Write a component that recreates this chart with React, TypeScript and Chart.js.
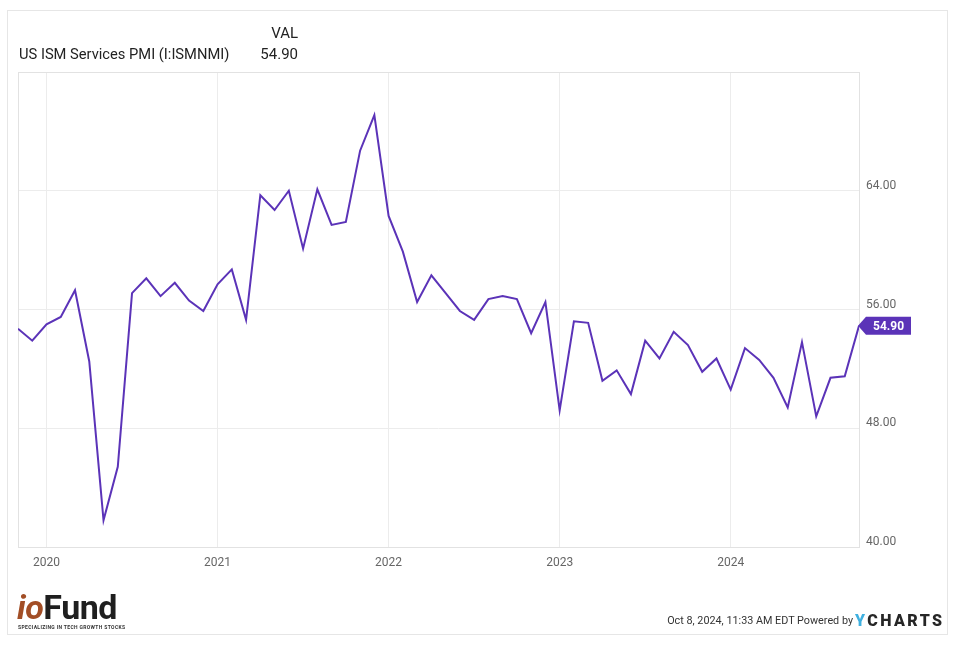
import React, { useEffect, useRef } from "react";
import { Chart, registerables } from "chart.js";

Chart.register(...registerables);

// Monthly US ISM Services PMI, Oct 2019 .. Sep 2024 (month-end dated)
const months: string[] = [
  "2019-10", "2019-11", "2019-12",
  "2020-01", "2020-02", "2020-03", "2020-04", "2020-05", "2020-06", "2020-07", "2020-08", "2020-09", "2020-10", "2020-11", "2020-12",
  "2021-01", "2021-02", "2021-03", "2021-04", "2021-05", "2021-06", "2021-07", "2021-08", "2021-09", "2021-10", "2021-11", "2021-12",
  "2022-01", "2022-02", "2022-03", "2022-04", "2022-05", "2022-06", "2022-07", "2022-08", "2022-09", "2022-10", "2022-11", "2022-12",
  "2023-01", "2023-02", "2023-03", "2023-04", "2023-05", "2023-06", "2023-07", "2023-08", "2023-09", "2023-10", "2023-11", "2023-12",
  "2024-01", "2024-02", "2024-03", "2024-04", "2024-05", "2024-06", "2024-07", "2024-08", "2024-09",
];

const pmiValues: number[] = [
  54.7, 53.9, 55.0,
  55.5, 57.3, 52.5, 41.8, 45.4, 57.1, 58.1, 56.9, 57.8, 56.6, 55.9, 57.7,
  58.7, 55.3, 63.7, 62.7, 64.0, 60.1, 64.1, 61.7, 61.9, 66.7, 69.1, 62.3,
  59.9, 56.5, 58.3, 57.1, 55.9, 55.3, 56.7, 56.9, 56.7, 54.4, 56.5, 49.2,
  55.2, 55.1, 51.2, 51.9, 50.3, 53.9, 52.7, 54.5, 53.6, 51.8, 52.7, 50.6,
  53.4, 52.6, 51.4, 49.4, 53.8, 48.8, 51.4, 51.5, 54.9,
];

// Year labels sit at the Dec-31 data points
const yearTickMonths: string[] = ["2019-12", "2020-12", "2021-12", "2022-12", "2023-12"];
const yearTickLabels: string[] = ["2020", "2021", "2022", "2023", "2024"];

const yTicks: number[] = [40, 48, 56, 64];
const yMin = 40;
const yMax = 72;

const seriesName = "US ISM Services PMI (I:ISMNMI)";
const lastValueText = "54.90";

const LINE_COLOR = "#5b33b8";
const GRID_COLOR = "#ececec";

export default function App() {
  const canvasRef = useRef<HTMLCanvasElement | null>(null);

  useEffect(() => {
    const canvas = canvasRef.current;
    if (!canvas) return;

    const points = pmiValues.map((v, i) => ({ x: i, y: v }));
    const xTickValues = yearTickMonths.map((m) => months.indexOf(m));

    const framePlugin = {
      id: "frameAndTag",
      beforeDatasetsDraw(chart: any) {
        const { ctx, chartArea } = chart;
        ctx.save();
        ctx.strokeStyle = "#e2e2e2";
        ctx.lineWidth = 1;
        ctx.strokeRect(
          Math.round(chartArea.left) + 0.5,
          Math.round(chartArea.top) + 0.5,
          Math.round(chartArea.right - chartArea.left),
          Math.round(chartArea.bottom - chartArea.top)
        );
        ctx.restore();
      },
      afterDatasetsDraw(chart: any) {
        const { ctx } = chart;
        const xs = chart.scales.x;
        const ys = chart.scales.y;
        const lastIdx = pmiValues.length - 1;
        const px = xs.getPixelForValue(lastIdx);
        const py = ys.getPixelForValue(pmiValues[lastIdx]);
        const h = 18;
        const w = 52;
        ctx.save();
        ctx.fillStyle = LINE_COLOR;
        ctx.beginPath();
        ctx.moveTo(px - 1, py);
        ctx.lineTo(px + 7, py - h / 2);
        ctx.lineTo(px + w, py - h / 2);
        ctx.lineTo(px + w, py + h / 2);
        ctx.lineTo(px + 7, py + h / 2);
        ctx.closePath();
        ctx.fill();
        ctx.fillStyle = "#ffffff";
        ctx.font = "bold 12px Roboto";
        ctx.textAlign = "center";
        ctx.textBaseline = "middle";
        ctx.fillText(lastValueText, px + 7 + (w - 7) / 2, py + 1);
        ctx.restore();
      },
    };

    const chart = new Chart(canvas, {
      type: "line",
      data: {
        datasets: [
          {
            label: seriesName,
            data: points,
            borderColor: LINE_COLOR,
            borderWidth: 2,
            pointRadius: 0,
            tension: 0,
            fill: false,
          },
        ],
      },
      options: {
        responsive: false,
        animation: false,
        devicePixelRatio: 1,
        layout: { padding: { left: 18, top: 72, right: 0, bottom: 0 } },
        plugins: {
          legend: { display: false },
          tooltip: { enabled: false },
        },
        scales: {
          x: {
            type: "linear",
            min: 0,
            max: months.length - 1,
            afterBuildTicks(scale: any) {
              scale.ticks = xTickValues.map((v) => ({ value: v }));
            },
            afterFit(scale: any) {
              scale.height = 99;
            },
            grid: { color: GRID_COLOR, drawTicks: false },
            border: { display: false },
            ticks: {
              color: "#666666",
              font: { family: "Roboto", size: 12 },
              padding: 9,
              maxRotation: 0,
              autoSkip: false,
              callback: (value: any) => {
                const i = xTickValues.indexOf(Number(value));
                return i >= 0 ? yearTickLabels[i] : "";
              },
            },
          },
          y: {
            type: "linear",
            position: "right",
            min: yMin,
            max: yMax,
            afterBuildTicks(scale: any) {
              scale.ticks = yTicks.map((v) => ({ value: v }));
            },
            afterFit(scale: any) {
              scale.width = 99;
            },
            grid: { color: GRID_COLOR, drawTicks: false },
            border: { display: false },
            ticks: {
              color: "#666666",
              font: { family: "Roboto", size: 12 },
              padding: 7,
              labelOffset: -5,
              callback: (value: any) => Number(value).toFixed(2),
            },
          },
        },
      },
      plugins: [framePlugin],
    });

    return () => {
      chart.destroy();
    };
  }, []);

  const abs = (s: React.CSSProperties): React.CSSProperties => ({ position: "absolute", ...s });

  return (
    <div
      style={{
        position: "absolute",
        left: 0,
        top: 0,
        width: 958,
        height: 646,
        background: "#ffffff",
        fontFamily: "Roboto, sans-serif",
        overflow: "hidden",
      }}
    >
      <div
        style={abs({
          left: 7,
          top: 10,
          width: 941,
          height: 625,
          border: "1px solid #e6e6e6",
          boxSizing: "border-box",
        })}
      />
      <canvas ref={canvasRef} width={958} height={646} style={abs({ left: 0, top: 0, width: 958, height: 646 })} />
      <div style={abs({ left: 19, top: 45, fontSize: 14.7, lineHeight: "19px", color: "#222" })}>{seriesName}</div>
      <div style={abs({ left: 200, width: 98, top: 24, textAlign: "right", fontSize: 15, lineHeight: "19px", color: "#222" })}>VAL</div>
      <div style={abs({ left: 200, width: 98, top: 45, textAlign: "right", fontSize: 15, lineHeight: "19px", color: "#222" })}>
        {lastValueText}
      </div>

      {/* ioFund logo */}
      <div style={abs({ left: 17, top: 590, height: 34, lineHeight: "34px", fontSize: 34, whiteSpace: "nowrap", letterSpacing: -0.5 })}>
        <span style={{ color: "#a24e26", fontWeight: 700, fontStyle: "italic" }}>io</span>
        <span style={{ color: "#1f1f1f", fontWeight: 700 }}>Fund</span>
      </div>
      <div style={abs({ left: 18, top: 624, fontSize: 5, lineHeight: "6px", fontWeight: 700, color: "#333", letterSpacing: 0.35, whiteSpace: "nowrap" })}>
        SPECIALIZING IN TECH GROWTH STOCKS
      </div>

      {/* footer */}
      <div style={abs({ left: 560, width: 293, top: 613, textAlign: "right", fontSize: 10.8, lineHeight: "16px", color: "#333", whiteSpace: "nowrap" })}>
        Oct 8, 2024, 11:33 AM EDT Powered by
      </div>
      <div style={abs({ left: 855, top: 611, fontSize: 16, lineHeight: "19px", fontWeight: 900, letterSpacing: 2.4, whiteSpace: "nowrap" })}>
        <span style={{ color: "#3fb0e0" }}>Y</span>
        <span style={{ color: "#262626" }}>CHARTS</span>
      </div>
    </div>
  );
}
